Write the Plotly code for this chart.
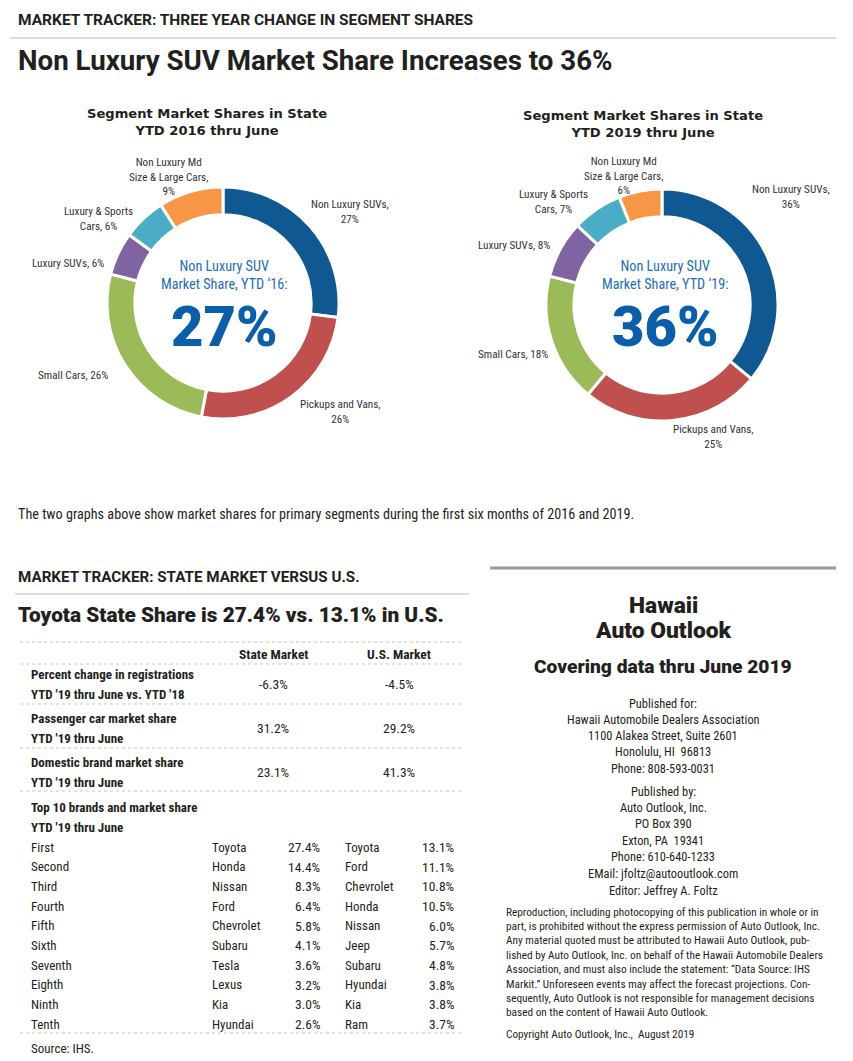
import plotly.graph_objects as go

W, H = 853, 1061
OFF = 8  # browser body margin
WF, HF = W - OFF, H - OFF

# ---------------- data ----------------
segments = ["Non Luxury SUVs", "Pickups and Vans", "Small Cars", "Luxury SUVs",
            "Luxury & Sports Cars", "Non Luxury Md Size & Large Cars"]
seg_label_text = ["Non Luxury SUVs,", "Pickups and Vans,", "Small Cars,", "Luxury SUVs,",
                  "Luxury & Sports<br>Cars,", "Non Luxury Md<br>Size & Large Cars,"]
seg_label_sep = ["<br>", "<br>", " ", " ", " ", "<br>"]
share_2016 = [27, 26, 26, 6, 6, 9]
share_2019 = [36, 25, 18, 8, 7, 6]
seg_colors = ["#0F5891", "#C0504D", "#9BBB59", "#8064A2", "#4BACC6", "#F79646"]

metric_labels = [["Percent change in registrations", "YTD '19 thru June vs. YTD '18"],
                 ["Passenger car market share", "YTD '19 thru June"],
                 ["Domestic brand market share", "YTD '19 thru June"]]
state_metric = [-6.3, 31.2, 23.1]
us_metric = [-4.5, 29.2, 41.3]

ranks = ["First", "Second", "Third", "Fourth", "Fifth", "Sixth", "Seventh", "Eighth", "Ninth", "Tenth"]
state_brands = ["Toyota", "Honda", "Nissan", "Ford", "Chevrolet", "Subaru", "Tesla", "Lexus", "Kia", "Hyundai"]
state_brand_share = [27.4, 14.4, 8.3, 6.4, 5.8, 4.1, 3.6, 3.2, 3.0, 2.6]
us_brands = ["Toyota", "Ford", "Chevrolet", "Honda", "Nissan", "Jeep", "Subaru", "Hyundai", "Kia", "Ram"]
us_brand_share = [13.1, 11.1, 10.8, 10.5, 6.0, 5.7, 4.8, 3.8, 3.8, 3.7]

publisher_lines = ["Published for:", "Hawaii Automobile Dealers Association",
                   "1100 Alakea Street, Suite 2601", "Honolulu, HI  96813", "Phone: 808-593-0031",
                   "Published by:", "Auto Outlook, Inc.", "PO Box 390", "Exton, PA  19341",
                   "Phone: 610-640-1233", "EMail: jfoltz@autooutlook.com", "Editor: Jeffrey A. Foltz"]
disclaimer_lines = [
    "Reproduction, including photocopying of this publication in whole or in",
    "part, is prohibited without the express permission of Auto Outlook, Inc.",
    "Any material quoted must be attributed to Hawaii Auto Outlook, pub-",
    "lished by Auto Outlook, Inc. on behalf of the Hawaii Automobile Dealers",
    "Association, and must also include the statement: \u201cData Source: IHS",
    "Markit.\u201d Unforeseen events may affect the forecast projections. Con-",
    "sequently, Auto Outlook is not responsible for management decisions",
    "based on the content of Hawaii Auto Outlook.",
]

# ---------------- styles ----------------
NARROW = "Roboto Condensed, DejaVu Sans Condensed, sans-serif"
ROBOTO = "Roboto, DejaVu Sans, sans-serif"
HEAVY = "DejaVu Sans, Verdana, sans-serif"
DARK = "#231F20"
TXT = "#333333"
BLUE_T = "#1E6DB6"
BLUE_N = "#0A5FA8"

fig = go.Figure()
annotations = []
shapes = []


def px(x):
    return (x - OFF) / WF


def py(y):
    return 1 - (y - OFF) / HF


def txt(x, y, s, size=12, color=DARK, family=NARROW, bold=False, anchor="left", weight=None):
    w = weight if weight is not None else (700 if bold else 400)
    annotations.append(dict(x=px(x), y=py(y), xref="paper", yref="paper", text=s,
                            showarrow=False, xanchor=anchor, yanchor="middle", align=anchor,
                            font=dict(family=family, size=size, color=color, weight=w)))


def hline(x0, x1, y, color="#DDDDDD", width=2, dash="solid"):
    shapes.append(dict(type="line", xref="paper", yref="paper", x0=px(x0), x1=px(x1),
                       y0=py(y), y1=py(y), line=dict(color=color, width=width, dash=dash)))


def donut(cx, cy, r, values, name):
    fig.add_trace(go.Pie(values=values, labels=segments, name=name, sort=False,
                         direction="clockwise", rotation=0, hole=0.76,
                         marker=dict(colors=seg_colors, line=dict(color="white", width=3)),
                         textinfo="none", hoverinfo="label+percent", showlegend=False,
                         domain=dict(x=[px(cx - r), px(cx + r)], y=[py(cy + r), py(cy - r)])))


# ---------------- top section ----------------
txt(16, 20, "MARKET TRACKER: THREE YEAR CHANGE IN SEGMENT SHARES", size=15.5, family=ROBOTO, bold=True)
hline(10, 836, 38)
txt(16, 60, "Non Luxury SUV Market Share Increases to 36%", size=27.7, family=ROBOTO, bold=True)

donut(223, 303, 116, share_2016, "2016")
donut(662, 305, 116, share_2019, "2019")

txt(207, 122, "Segment Market Shares in State<br>YTD 2016 thru June", size=13.1, family=HEAVY,
    bold=True, anchor="center")
txt(643, 124, "Segment Market Shares in State<br>YTD 2019 thru June", size=13.1, family=HEAVY,
    bold=True, anchor="center")

# center texts
txt(224, 275, "Non Luxury SUV<br>Market Share, YTD \u201816:", size=14.2, color=BLUE_T, anchor="center")
txt(224, 327, "%d%%" % share_2016[0], size=56, color=BLUE_N, family=ROBOTO, weight=900, anchor="center")
txt(665, 275, "Non Luxury SUV<br>Market Share, YTD \u201819:", size=14.2, color=BLUE_T, anchor="center")
txt(665, 327, "%d%%" % share_2019[0], size=56, color=BLUE_N, family=ROBOTO, weight=900, anchor="center")

# segment labels (positions of label blocks)
pos_2016 = [(350, 212), (340, 412), (73, 375), (68, 263), (98, 219), (168, 177)]
pos_2019 = [(791, 197), (713, 437), (513, 354), (514, 246), (553, 202), (623, 176)]
for i in range(len(segments)):
    txt(pos_2016[i][0], pos_2016[i][1], "%s%s%d%%" % (seg_label_text[i], seg_label_sep[i], share_2016[i]),
        size=11.2, color=TXT, anchor="center")
    txt(pos_2019[i][0], pos_2019[i][1], "%s%s%d%%" % (seg_label_text[i], seg_label_sep[i], share_2019[i]),
        size=11.2, color=TXT, anchor="center")

txt(16, 514, "The two graphs above show market shares for primary segments during the first six months of 2016 and 2019.",
    size=14.2, color=DARK)

# ---------------- table section ----------------
txt(16, 577, "MARKET TRACKER: STATE MARKET VERSUS U.S.", size=15.2, family=ROBOTO, bold=True)
hline(15, 469, 594)
txt(16, 615, "Toyota State Share is 27.4% vs. 13.1% in U.S.", size=20.8, family=ROBOTO, weight=900)

for yy in [642, 664, 704, 748, 791, 1033]:
    hline(20, 461, yy, color="#C4C4C4", width=1.2, dash="dot")

txt(273, 654, "State Market", size=13.5, bold=True, anchor="center")
txt(399, 654, "U.S. Market", size=13.5, bold=True, anchor="center")

metric_y = [684, 728, 772]
for i in range(3):
    txt(29, metric_y[i] - 10, metric_labels[i][0], size=13, bold=True)
    txt(29, metric_y[i] + 10, metric_labels[i][1], size=13, bold=True)
    txt(273, metric_y[i], "%.1f%%" % state_metric[i], size=13.5, anchor="center")
    txt(399, metric_y[i], "%.1f%%" % us_metric[i], size=13.5, anchor="center")

txt(29, 807, "Top 10 brands and market share", size=13, bold=True)
txt(29, 827, "YTD '19 thru June", size=13, bold=True)
for i in range(10):
    yy = 847 + i * 19.67
    txt(29, yy, ranks[i], size=13)
    txt(210, yy, state_brands[i], size=13)
    txt(322, yy, "%.1f%%" % state_brand_share[i], size=13.5, anchor="right")
    txt(343, yy, us_brands[i], size=13)
    txt(456, yy, "%.1f%%" % us_brand_share[i], size=13.5, anchor="right")
txt(29, 1048, "Source: IHS.", size=13)

# ---------------- right info panel ----------------
hline(490, 836, 568, color="#999999", width=3)
txt(663, 605, "Hawaii", size=22.8, family=ROBOTO, weight=900, anchor="center")
txt(663, 630, "Auto Outlook", size=22.8, family=ROBOTO, weight=900, anchor="center")
txt(663, 666, "Covering data thru June 2019", size=19.2, family=ROBOTO, weight=900, anchor="center")
pub_y = [703, 719, 735, 751, 768, 791, 807, 823, 840, 856, 873, 890]
for i, s in enumerate(publisher_lines):
    txt(663, pub_y[i], s, size=12.4, anchor="center")
for i, s in enumerate(disclaimer_lines):
    txt(504, 912 + i * 14.4, s, size=11.3)
txt(504, 1034, "Copyright Auto Outlook, Inc.,  August 2019", size=11.3)

fig.update_layout(width=WF, height=HF, margin=dict(l=0, r=0, t=0, b=0),
                  paper_bgcolor="white", plot_bgcolor="white",
                  annotations=annotations, shapes=shapes, showlegend=False)
fig.write_html("out.html")
